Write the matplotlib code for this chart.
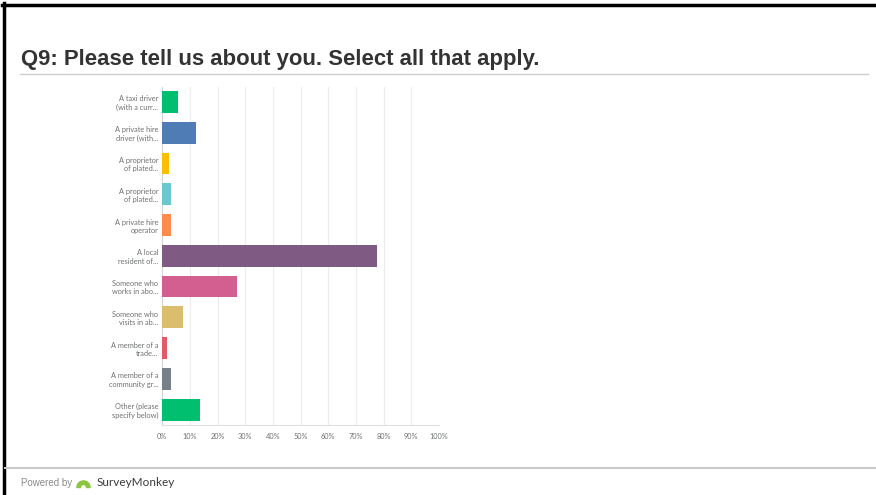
import matplotlib
matplotlib.use("Agg")
import matplotlib.pyplot as plt
from matplotlib.lines import Line2D
from matplotlib.patches import Wedge

categories = [
    "A taxi driver\n(with a curr...",
    "A private hire\ndriver (with...",
    "A proprietor\nof plated...",
    "A proprietor\nof plated...",
    "A private hire\noperator",
    "A local\nresident of...",
    "Someone who\nworks in abo...",
    "Someone who\nvisits in ab...",
    "A member of a\ntrade...",
    "A member of a\ncommunity gr...",
    "Other (please\nspecify below)",
]
values = [5.8, 12.0, 2.4, 3.3, 3.3, 77.5, 26.9, 7.5, 1.6, 3.3, 13.5]
colors = ["#00bf6f", "#507cb6", "#f9be00", "#6bc8cd", "#ff8b4f", "#7f5a83",
          "#d25f90", "#dbbd6e", "#e05b64", "#768086", "#00bf6f"]
xticks = [0, 10, 20, 30, 40, 50, 60, 70, 80, 90, 100]
xtick_labels = ["0%", "10%", "20%", "30%", "40%", "50%", "60%", "70%", "80%", "90%", "100%"]
title = "Q9: Please tell us about you. Select all that apply."

plt.rcParams['font.family'] = ['Liberation Sans', 'DejaVu Sans']

fig = plt.figure(figsize=(8.76, 4.95), dpi=100)
W, H = 876, 495

def fx(x):
    return x / W

def fy(y):
    return 1 - y / H

ax = fig.add_axes([fx(162.3), fy(425), (439 - 162.3) / W, (425 - 86.6) / H])
ypos = list(range(len(categories)))
ax.barh(ypos, values, height=0.71, color=colors, zorder=3)
ax.set_ylim(len(categories) - 0.5, -0.5)
ax.set_xlim(0, 100)
ax.set_yticks(ypos)
ax.set_yticklabels(categories, fontsize=5.3, color="#6f7171", family=['Lato', 'DejaVu Sans'],
                   linespacing=1.2)
ax.set_xticks(xticks)
ax.set_xticklabels(xtick_labels, fontsize=5.3, color="#6f7171", family=['Lato', 'DejaVu Sans'])
ax.tick_params(axis='y', length=0, pad=3)
ax.tick_params(axis='x', length=0, pad=5.5)
ax.grid(axis='x', color="#ececec", linewidth=0.8, zorder=0)
for s in ['top', 'right']:
    ax.spines[s].set_visible(False)
ax.spines['left'].set_color("#d5d5d5")
ax.spines['bottom'].set_color("#e0e0e0")
ax.spines['left'].set_linewidth(0.8)
ax.spines['bottom'].set_linewidth(0.8)

# title
fig.text(fx(21), fy(60), title, fontsize=15.9, fontweight='bold', color="#333333",
         va='center', ha='left')
fig.add_artist(Line2D([fx(20), fx(868)], [fy(73.5), fy(73.5)], color="#cccccc", linewidth=1.0))

# frame borders (top and left)
fig.add_artist(Line2D([fx(2), fx(876)], [fy(4.5), fy(4.5)], color="#000000", linewidth=2.5))
fig.add_artist(Line2D([fx(4), fx(4)], [fy(3), fy(495)], color="#000000", linewidth=2.5))

# footer
fig.add_artist(Line2D([fx(5), fx(876)], [fy(467.5), fy(467.5)], color="#c8c8c8", linewidth=1.5))
fig.text(fx(21), fy(483), "Powered by", fontsize=7, color="#8a8a8a", va='center', ha='left')
fig.add_artist(Wedge((0.835, (495 - 487.5) / 100), 0.066, 0, 180, width=0.036,
                     transform=fig.dpi_scale_trans, color="#8cc63f"))
fig.text(fx(97), fy(483), "SurveyMonkey", fontsize=8.5, color="#3c3c3c", va='center', ha='left',
         family=['Lato', 'DejaVu Sans'])

fig.savefig("out.png", dpi=100)
